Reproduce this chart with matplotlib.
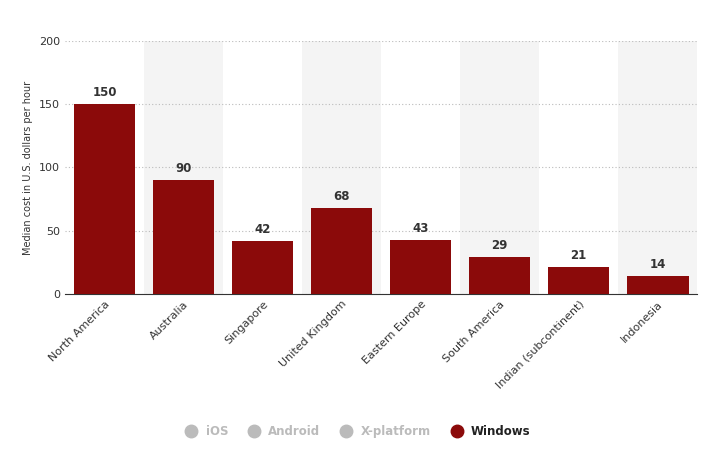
import matplotlib
matplotlib.use("Agg")
import matplotlib.pyplot as plt
from matplotlib.lines import Line2D

categories = ["North America", "Australia", "Singapore", "United Kingdom", "Eastern Europe",
              "South America", "Indian (subcontinent)", "Indonesia"]
values = [150, 90, 42, 68, 43, 29, 21, 14]
yticks = [0, 50, 100, 150, 200]
legend_labels = ["iOS", "Android", "X-platform", "Windows"]

fig = plt.figure(figsize=(7.10, 4.53), dpi=100)
ax = fig.add_axes([0.0915, 0.351, 0.8905, 0.5585])
n = len(categories)
for i in range(n):
    if i % 2 == 1:
        ax.axvspan(i - 0.5, i + 0.5, color="#f4f4f4", zorder=0, lw=0)
bars = ax.bar(range(n), values, width=0.78, color="#8b0a0a", zorder=3)
for i, v in enumerate(values):
    ax.text(i, v + 4, str(v), ha="center", va="bottom", fontsize=8.5, fontweight="bold", color="#333333")
ax.set_xlim(-0.5, n - 0.5)
ax.set_ylim(0, 200)
ax.set_yticks(yticks)
ax.yaxis.grid(True, linestyle=(0, (1, 2)), color="#bbbbbb", lw=0.8, zorder=1)
ax.set_axisbelow(True)
for s in ["top", "right", "left"]:
    ax.spines[s].set_visible(False)
ax.spines["bottom"].set_color("#333333")
ax.tick_params(axis="y", length=0, labelsize=8, colors="#333333")
ax.tick_params(axis="x", length=0, labelsize=8, colors="#333333")
ax.set_xticks(range(n))
ax.set_xticklabels(categories, rotation=45, ha="right", rotation_mode="anchor")
ax.set_ylabel("Median cost in U.S. dollars per hour", fontsize=7, color="#333333")

colors = ["#bbbbbb", "#bbbbbb", "#bbbbbb", "#8b0a0a"]
handles = [Line2D([], [], marker="o", ls="", markersize=9, color=c) for c in colors]
leg = fig.legend(handles, legend_labels, loc="center", bbox_to_anchor=(0.5, 0.048), ncol=4,
                 frameon=False, fontsize=8.5, handletextpad=0.2, columnspacing=1.2)
for t, c in zip(leg.get_texts(), ["#bbbbbb"] * 3 + ["#222222"]):
    t.set_color(c)
    t.set_fontweight("bold")
fig.savefig("out.png", dpi=100)
